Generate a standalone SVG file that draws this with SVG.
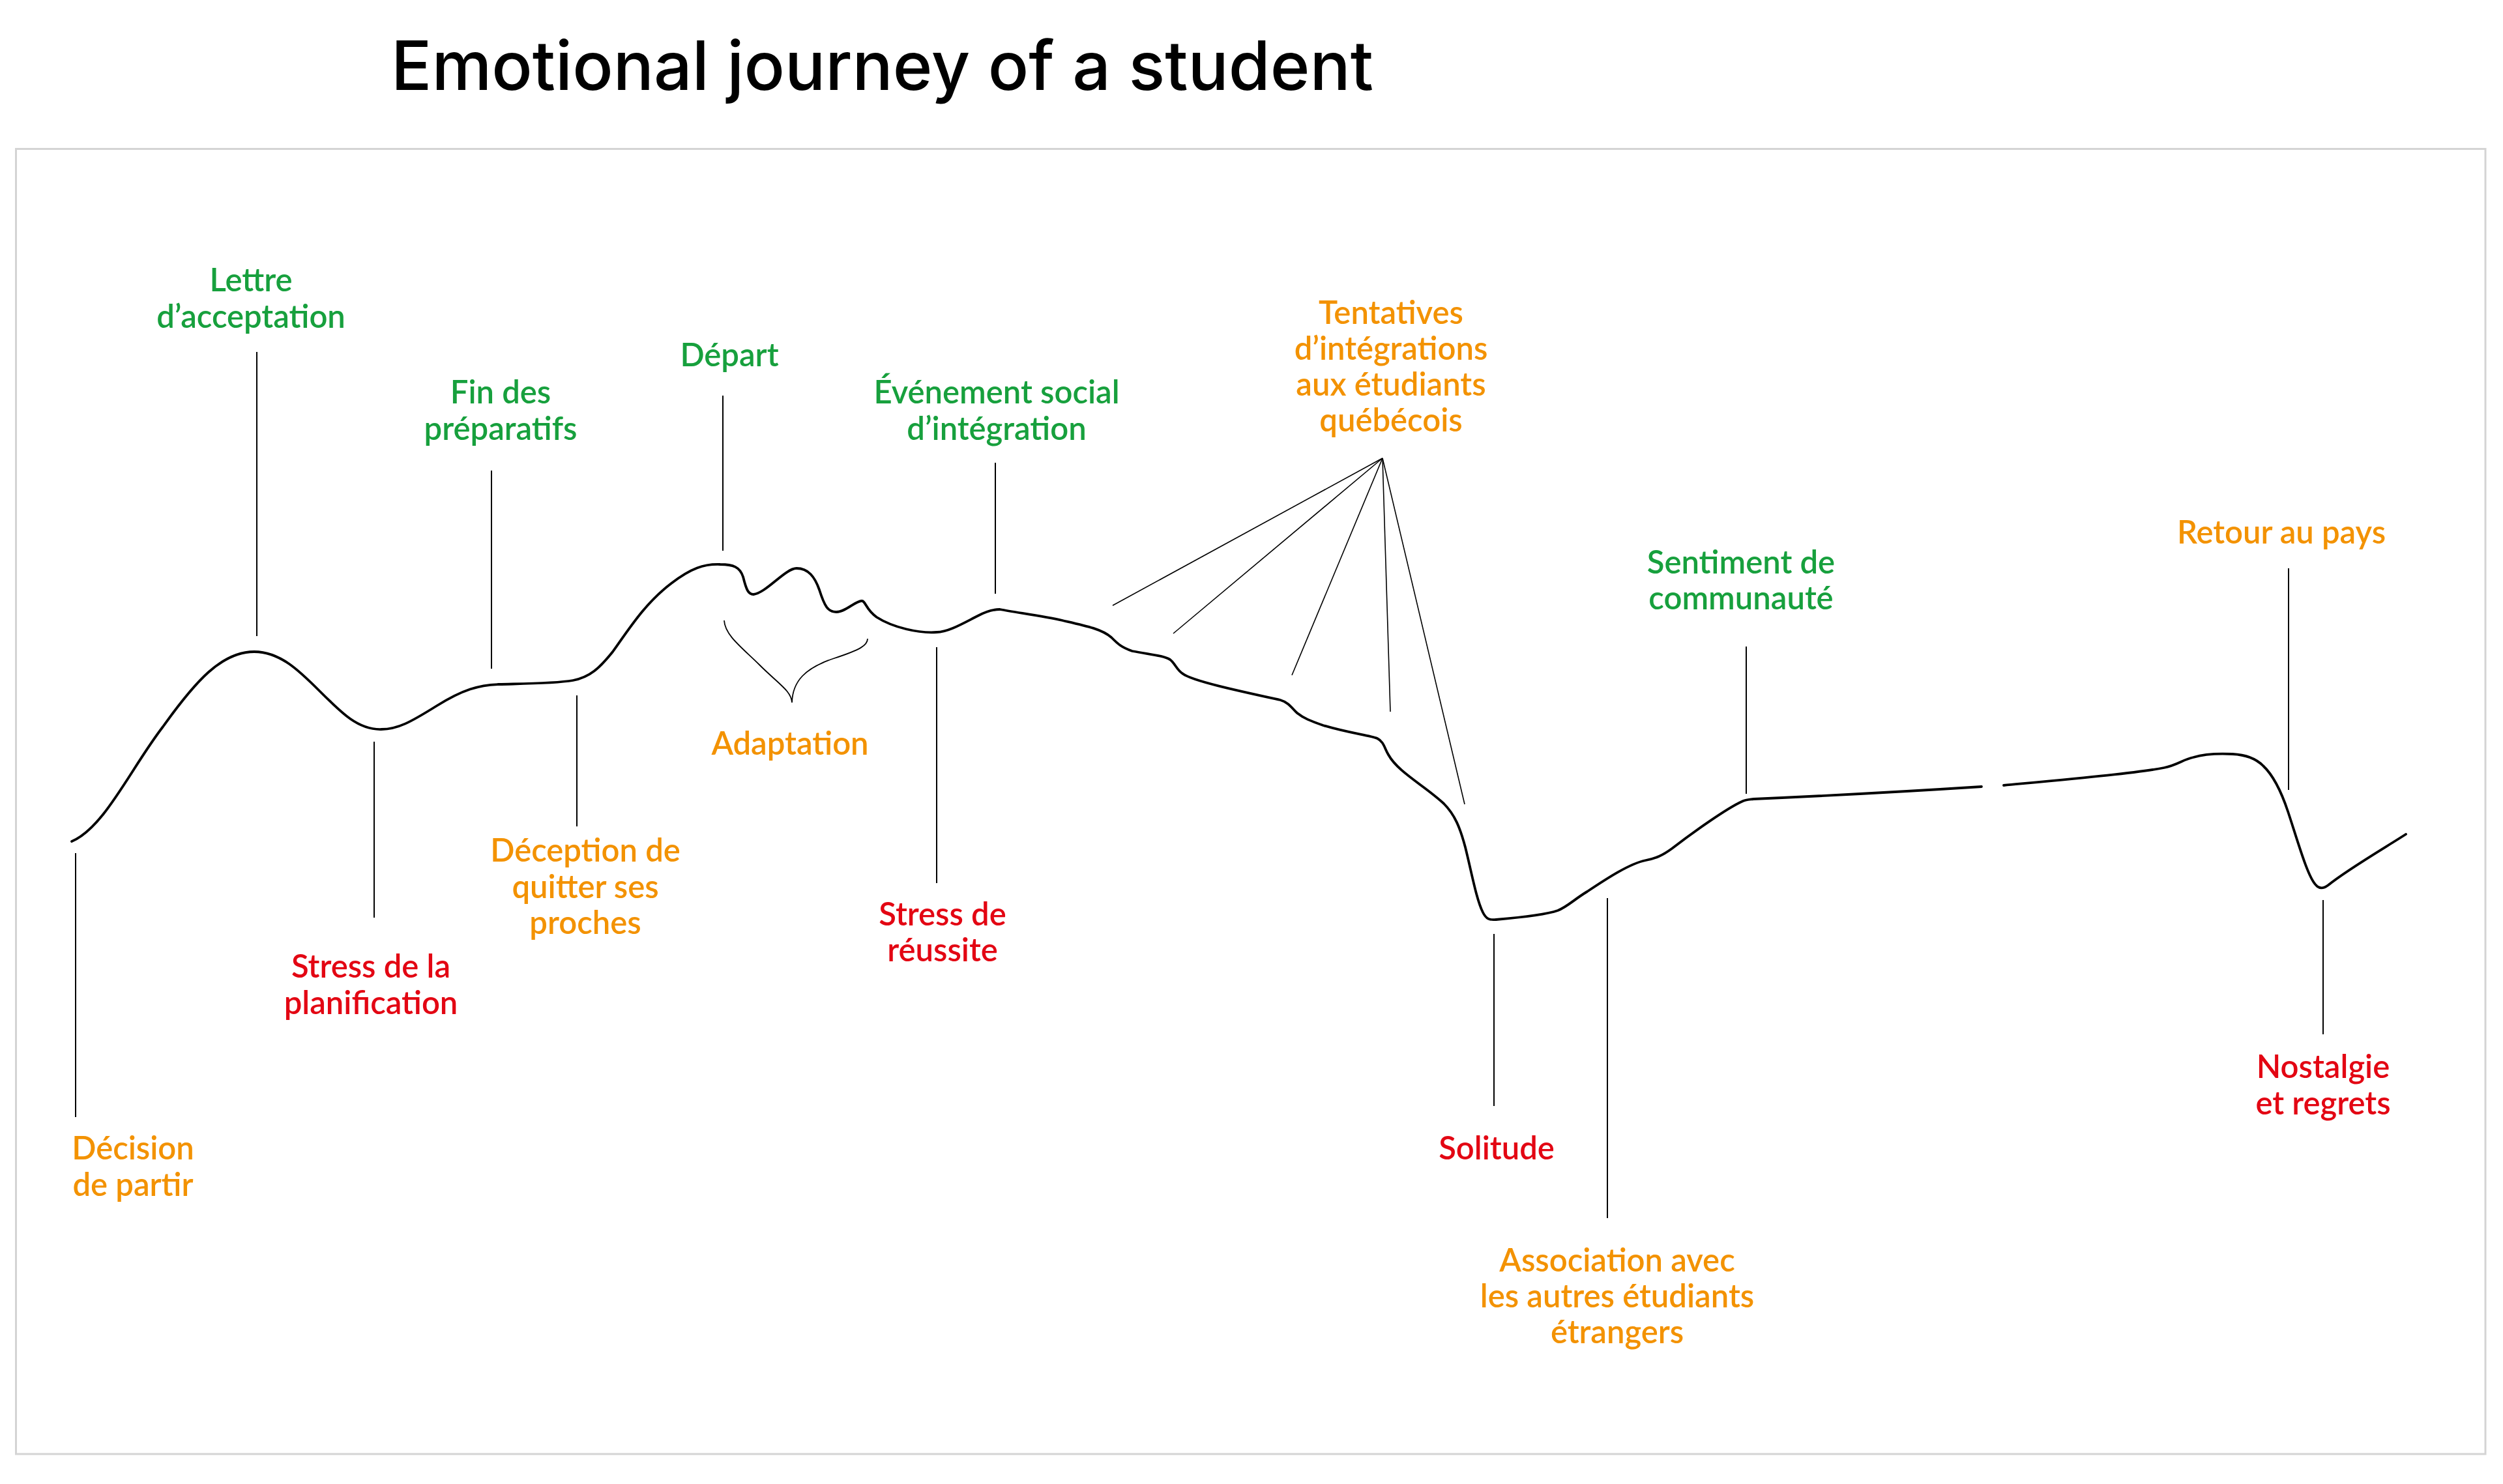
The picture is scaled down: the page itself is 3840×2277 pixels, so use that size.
<svg xmlns="http://www.w3.org/2000/svg" width="3840" height="2277" viewBox="0 0 3840 2277">
<style>
.lbl{font-family:Lato,"Noto Sans",sans-serif;font-size:49px;text-anchor:middle;font-weight:600}
.g{fill:#17a03d}.o{fill:#f39200}.r{fill:#e30613}
.conn line{stroke:#000;stroke-width:2}
.fan line{stroke:#000;stroke-width:1.6}
.curve{fill:none;stroke:#000;stroke-width:3.8;stroke-linecap:round;stroke-linejoin:round}
.brace{fill:none;stroke:#000;stroke-width:1.8}
</style>
<rect width="3840" height="2277" fill="#fff"/>
<text x="600" y="138" font-family="Inter,'Open Sans',sans-serif" font-size="104" font-weight="500" textLength="1507" lengthAdjust="spacingAndGlyphs" fill="#000">Emotional journey of a student</text>
<rect x="24.5" y="228.5" width="3788.5" height="2002.5" fill="none" stroke="#d4d4d4" stroke-width="3"/>

<g id="curve">
<path class="curve" d="M110,1291 C160,1270 200,1180 250,1115 C300,1045 340,1000 390,1000 C430,1000 460,1030 490,1060 C525,1095 550,1120 585,1119 C610,1119 630,1108 670,1083 C710,1058 735,1051 765,1050 C800,1049 850,1049 879,1044 C905,1039 920,1025 940,1000 C965,965 990,925 1030,895 C1060,872 1080,865 1105,866 C1125,866 1135,870 1140,885 C1145,905 1148,912 1156,912 C1175,910 1205,872 1222,872 C1240,872 1250,885 1257,905 C1265,930 1270,939 1283,939 C1298,939 1312,922 1322,922 C1328,922 1328,935 1345,947 C1370,963 1410,972 1437,970 C1455,970 1480,955 1500,945 C1515,937 1525,935 1534,935 C1560,940 1600,945 1630,952 C1665,960 1690,965 1705,978 C1715,988 1720,993 1737,999 C1770,1005 1785,1006 1795,1012 C1803,1018 1805,1028 1815,1034 C1830,1045 1900,1060 1964,1074 C1978,1078 1983,1088 1990,1094 C2000,1102 2010,1106 2030,1113 C2070,1125 2100,1128 2113,1133 C2123,1138 2124,1148 2130,1158 C2145,1185 2185,1205 2215,1233 C2232,1250 2240,1270 2248,1300 C2258,1340 2265,1380 2275,1400 C2280,1410 2285,1412 2295,1411 C2330,1408 2370,1404 2390,1397 C2405,1391 2415,1380 2435,1368 C2465,1348 2500,1325 2525,1320 C2540,1317 2550,1313 2565,1302 C2600,1275 2650,1240 2672,1230 C2678,1227 2682,1227 2690,1226 Q2870,1218 3040,1207"/>
<path class="curve" d="M3074,1205 C3180,1195 3280,1186 3320,1178 C3340,1174 3350,1165 3365,1162 C3385,1156 3405,1156 3425,1157 C3445,1158 3460,1163 3472,1175 C3488,1190 3500,1215 3510,1245 C3525,1290 3540,1345 3553,1358 C3558,1364 3564,1364 3572,1358 C3600,1335 3660,1300 3691,1280"/>
</g>

<g id="connectors">
<g class="conn">
<line x1="116" y1="1309" x2="116" y2="1714"/>
<line x1="394" y1="540" x2="394" y2="976"/>
<line x1="574" y1="1138" x2="574" y2="1408"/>
<line x1="754" y1="722" x2="754" y2="1026"/>
<line x1="885" y1="1067" x2="885" y2="1268"/>
<line x1="1109" y1="607" x2="1109" y2="845"/>
<line x1="1437" y1="993" x2="1437" y2="1355"/>
<line x1="1527" y1="710" x2="1527" y2="911"/>
<line x1="2292" y1="1433" x2="2292" y2="1697"/>
<line x1="2466" y1="1378" x2="2466" y2="1869"/>
<line x1="2679" y1="992" x2="2679" y2="1218"/>
<line x1="3511" y1="872" x2="3511" y2="1212"/>
<line x1="3564" y1="1381" x2="3564" y2="1587"/>
</g>
<g class="fan">
<line x1="2121" y1="703" x2="1707" y2="929"/>
<line x1="2121" y1="703" x2="1800" y2="972"/>
<line x1="2121" y1="703" x2="1982" y2="1036"/>
<line x1="2121" y1="703" x2="2133" y2="1092"/>
<line x1="2121" y1="703" x2="2247" y2="1234"/>
</g>
</g>

<g id="lettre"><text class="lbl g" x="385" y="447">Lettre</text><text class="lbl g" x="385" y="503">d’acceptation</text></g>
<g id="fin-preparatifs"><text class="lbl g" x="768" y="619">Fin des</text><text class="lbl g" x="768" y="675">préparatifs</text></g>
<g id="depart"><text class="lbl g" x="1119" y="562">Départ</text></g>
<g id="evenement"><text class="lbl g" x="1529" y="619">Événement social</text><text class="lbl g" x="1529" y="675">d’intégration</text></g>
<g id="tentatives"><text class="lbl o" x="2134" y="497">Tentatives</text><text class="lbl o" x="2134" y="552">d’intégrations</text><text class="lbl o" x="2134" y="607">aux étudiants</text><text class="lbl o" x="2134" y="662">québécois</text></g>
<g id="sentiment"><text class="lbl g" x="2671" y="880">Sentiment de</text><text class="lbl g" x="2671" y="935">communauté</text></g>
<g id="retour"><text class="lbl o" x="3500" y="834">Retour au pays</text></g>
<g id="adaptation"><path class="brace" d="M1111,952 C1112,975 1140,995 1165,1020 C1195,1050 1214,1060 1215,1078 C1216,1045 1235,1025 1280,1010 C1320,997 1331,990 1331,980"/><text class="lbl o" x="1212" y="1158">Adaptation</text></g>
<g id="deception"><text class="lbl o" x="898" y="1322">Déception de</text><text class="lbl o" x="898" y="1378">quitter ses</text><text class="lbl o" x="898" y="1433">proches</text></g>
<g id="stress-planification"><text class="lbl r" x="569" y="1500">Stress de la</text><text class="lbl r" x="569" y="1556">planification</text></g>
<g id="stress-reussite"><text class="lbl r" x="1446" y="1420">Stress de</text><text class="lbl r" x="1446" y="1475">réussite</text></g>
<g id="decision"><text class="lbl o" x="204" y="1779">Décision</text><text class="lbl o" x="204" y="1835">de partir</text></g>
<g id="solitude"><text class="lbl r" x="2296" y="1779">Solitude</text></g>
<g id="association"><text class="lbl o" x="2481" y="1951">Association avec</text><text class="lbl o" x="2481" y="2006">les autres étudiants</text><text class="lbl o" x="2481" y="2061">étrangers</text></g>
<g id="nostalgie"><text class="lbl r" x="3564" y="1654">Nostalgie</text><text class="lbl r" x="3564" y="1710">et regrets</text></g>
</svg>
